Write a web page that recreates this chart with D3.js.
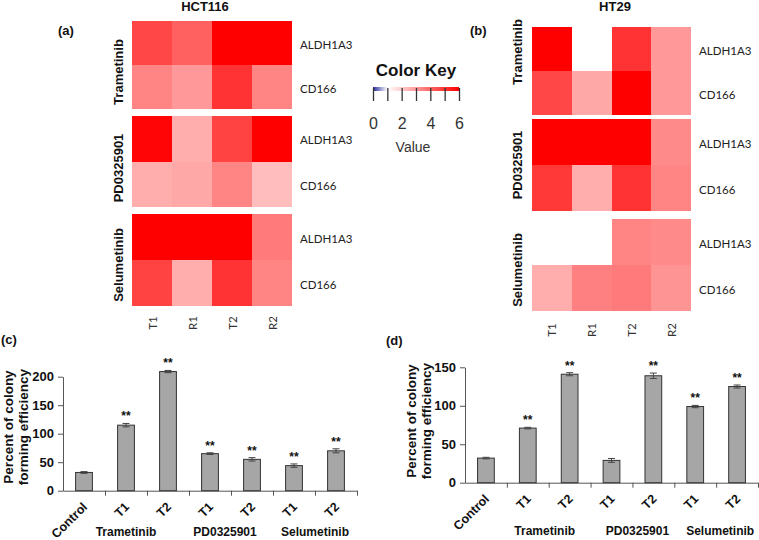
<!DOCTYPE html>
<html><head><meta charset="utf-8">
<script src="https://cdn.jsdelivr.net/npm/d3@7"></script>
<style>body{margin:0;background:#fff}svg{display:block}</style>
</head><body><svg id="chart" width="759" height="540"></svg>
<script>
// ---------- DATA ----------
const heatCols = ["T1","R1","T2","R2"];
const heatGenes = ["ALDH1A3","CD166"];
const heatDrugs = ["Trametinib","PD0325901","Selumetinib"];
// rows: ALDH1A3, CD166 ; cols: T1,R1,T2,R2 ; null = blank cell
const hctTrametinib  = [[4.6,4.1,6.0,6.0],[3.4,3.0,5.0,3.4]];
const hctPD0325901   = [[5.9,2.6,4.7,6.0],[2.6,2.7,3.4,2.3]];
const hctSelumetinib = [[6.0,6.0,6.0,3.6],[4.7,2.6,5.0,3.4]];
const ht29Trametinib  = [[6.0,null,5.0,3.0],[4.6,2.7,6.0,3.0]];
const ht29PD0325901   = [[6.0,6.0,6.0,3.3],[4.9,2.6,5.0,3.4]];
const ht29Selumetinib = [[null,null,3.4,3.3],[2.6,3.5,3.6,3.1]];
const keyTicks = [0,1,2,3,4,5,6];
const keyLabels = [0,2,4,6];

const barKeys = ["Control","Trametinib T1","Trametinib T2","PD0325901 T1","PD0325901 T2","Selumetinib T1","Selumetinib T2"];
const barTickLabels = ["Control","T1","T2","T1","T2","T1","T2"];
const barGroups = ["Trametinib","PD0325901","Selumetinib"];
const hctColony    = [32,115,209,65,55,44,70];
const hctColonyErr = [1.5,3,2,1.5,3,3,3.5];
const hctColonySig = [false,true,true,true,true,true,true];
const ht29Colony    = [32,71,141,29,139,99,125];
const ht29ColonyErr = [1,1,2,2.5,3.5,1.5,2];
const ht29ColonySig = [false,true,true,false,true,true,true];
const hctYTicks = [0,50,100,150,200];
const ht29YTicks = [0,50,100,150];

// ---------- DRAW ----------
const svg = d3.select("#chart");
const BOLD = "'Liberation Sans', Arial, sans-serif";
const LIGHT = "Lato, 'Open Sans', sans-serif";
const color = d3.scaleLinear().domain([0,1,6]).range(["#2a2a9c","#ffffff","#ff0000"]).clamp(true);

function heatmap(cfg){
  const g = svg.append("g");
  const x = d3.scaleBand().domain(heatCols).range([cfg.x0, cfg.x1]);
  cfg.blocks.forEach((b,i)=>{
    const y = d3.scaleBand().domain(heatGenes).range([b.top, b.top + b.h]);
    const rows = cfg.data[i];
    heatGenes.forEach((gene,r)=>{
      g.selectAll(null).data(rows[r]).enter().append("rect")
        .attr("x",(d,c)=>x(heatCols[c])).attr("y",y(gene))
        .attr("width",x.bandwidth()).attr("height",y.bandwidth())
        .attr("fill",d=> d==null ? "#ffffff" : color(d))
        .attr("shape-rendering","crispEdges");
      g.append("text").attr("x",cfg.x1 + 8).attr("y",y(gene)+y.bandwidth()/2 + 1)
        .attr("dominant-baseline","central").attr("font-family",LIGHT)
        .attr("font-size",11.5).attr("fill","#222").text(gene);
    });
    g.append("text")
      .attr("transform",`translate(${cfg.drugX},${b.labelY}) rotate(-90)`)
      .attr("text-anchor","middle").attr("dominant-baseline","central")
      .attr("font-family",BOLD).attr("font-weight","bold").attr("font-size",13)
      .attr("fill","#111").text(heatDrugs[i]);
  });
  g.selectAll(null).data(heatCols).enter().append("text")
    .attr("transform",d=>`translate(${x(d)+x.bandwidth()/2},${cfg.colY}) rotate(-90)`)
    .attr("text-anchor","middle").attr("dominant-baseline","central")
    .attr("font-family",LIGHT).attr("font-size",11.5).attr("fill","#333").text(d=>d);
  g.append("text").attr("x",cfg.titleX).attr("y",11).attr("text-anchor","middle")
    .attr("font-family",BOLD).attr("font-weight","bold").attr("font-size",13).attr("fill","#111").text(cfg.title);
  g.append("text").attr("x",cfg.tagX).attr("y",35)
    .attr("font-family",BOLD).attr("font-weight","bold").attr("font-size",13).attr("fill","#111").text(cfg.tag);
}

heatmap({x0:132,x1:292,drugX:118,colY:323,titleX:205,tagX:58,title:"HCT116",tag:"(a)",
  blocks:[{top:21,h:88,labelY:72},{top:116,h:91,labelY:168},{top:214,h:92,labelY:265}],
  data:[hctTrametinib,hctPD0325901,hctSelumetinib]});
heatmap({x0:532,x1:691,drugX:517,colY:330,titleX:615,tagX:470,title:"HT29",tag:"(b)",
  blocks:[{top:27,h:88,labelY:52},{top:119,h:92,labelY:165},{top:219,h:92,labelY:270}],
  data:[ht29Trametinib,ht29PD0325901,ht29Selumetinib]});

// Color key
(function(){
  const kx = d3.scaleLinear().domain([0,6]).range([373,459]);
  const defs = svg.append("defs");
  const grad = defs.append("linearGradient").attr("id","kg");
  d3.range(0,6.001,0.25).forEach(v=>grad.append("stop").attr("offset",(v/6*100)+"%").attr("stop-color",color(v)));
  svg.append("text").attr("x",416).attr("y",76).attr("text-anchor","middle")
    .attr("font-family",BOLD).attr("font-weight","bold").attr("font-size",17).attr("fill","#111").text("Color Key");
  svg.append("rect").attr("x",kx(0)).attr("y",87).attr("width",kx(6)-kx(0)).attr("height",4).attr("fill","url(#kg)");
  const ax = svg.append("g").attr("transform","translate(0,88)")
    .call(d3.axisBottom(kx).tickValues(keyTicks).tickSize(13).tickPadding(17)
      .tickFormat(d=> keyLabels.includes(d) ? d : ""));
  ax.select(".domain").remove();
  ax.selectAll("line").attr("stroke","#333").attr("stroke-width",1.3);
  ax.selectAll("text").attr("font-family","'Liberation Sans Narrow', 'Liberation Sans', sans-serif")
    .attr("font-size",16).attr("fill","#333");
  svg.append("text").attr("x",413).attr("y",152).attr("text-anchor","middle")
    .attr("font-family","'Liberation Sans', sans-serif").attr("font-size",14).attr("fill","#333").text("Value");
})();

function bars(cfg){
  const g = svg.append("g");
  const x = d3.scaleBand().domain(barKeys).range([cfg.x0,cfg.x1]).paddingInner(0.6).paddingOuter(0.3);
  const y = d3.scaleLinear().domain([0,cfg.yMax]).range([cfg.y0,cfg.yTop]);
  const axCol = "#555";
  const ya = g.append("g").attr("transform",`translate(${cfg.x0},0)`)
    .call(d3.axisLeft(y).tickValues(cfg.ticks).tickSize(5).tickSizeOuter(0).tickPadding(4));
  ya.select(".domain").attr("stroke",axCol);
  ya.selectAll("line").attr("stroke",axCol);
  ya.selectAll("text").attr("font-family",BOLD).attr("font-weight","bold").attr("font-size",13).attr("fill","#111");
  const xb = d3.scaleLinear().domain([0,barKeys.length]).range([cfg.x0,cfg.x1]);
  const xa = g.append("g").attr("transform",`translate(0,${cfg.y0})`)
    .call(d3.axisBottom(xb).tickValues(d3.range(1,barKeys.length+1)).tickSize(5).tickSizeOuter(0).tickFormat(""));
  xa.select(".domain").attr("stroke",axCol);
  xa.selectAll("line").attr("stroke",axCol);
  g.selectAll(null).data(cfg.values).enter().append("rect")
    .attr("x",(d,i)=>x(barKeys[i])).attr("y",d=>y(d))
    .attr("width",x.bandwidth()).attr("height",d=>cfg.y0-y(d))
    .attr("fill","#a6a6a6").attr("stroke","#333").attr("stroke-width",1);
  cfg.values.forEach((v,i)=>{
    const cx = x(barKeys[i]) + x.bandwidth()/2, e = cfg.err[i];
    g.append("line").attr("x1",cx).attr("x2",cx).attr("y1",y(v-e)).attr("y2",y(v+e)).attr("stroke","#444");
    [v-e,v+e].forEach(t=>g.append("line").attr("x1",cx-3.5).attr("x2",cx+3.5).attr("y1",y(t)).attr("y2",y(t)).attr("stroke","#444"));
    if(cfg.sig[i]) g.append("text").attr("x",cx).attr("y",y(v+e)-3).attr("text-anchor","middle")
      .attr("font-family",BOLD).attr("font-weight","bold").attr("font-size",12).attr("fill","#111").text("**");
    g.append("text").attr("transform",`translate(${cx+4},${cfg.y0+17}) rotate(-45)`)
      .attr("text-anchor","end").attr("font-family",BOLD).attr("font-weight","bold").attr("font-size",12.5)
      .attr("fill","#111").text(barTickLabels[i]);
  });
  barGroups.forEach((grp,k)=>{
    const a = x(barKeys[1+2*k]) + x.bandwidth()/2, b = x(barKeys[2+2*k]) + x.bandwidth()/2;
    g.append("text").attr("x",(a+b)/2 + cfg.groupDx[k]).attr("y",cfg.groupY).attr("text-anchor","middle")
      .attr("font-family",BOLD).attr("font-weight","bold").attr("font-size",12).attr("fill","#111").text(grp);
  });
  ["Percent of colony","forming efficiency"].forEach((t,k)=>{
    g.append("text").attr("transform",`translate(${cfg.titleX[k]},${cfg.titleCy}) rotate(-90)`)
      .attr("text-anchor","middle").attr("font-family",BOLD).attr("font-weight","bold").attr("font-size",13.5)
      .attr("fill","#111").text(t);
  });
  g.append("text").attr("x",cfg.tagX).attr("y",cfg.tagY)
    .attr("font-family",BOLD).attr("font-weight","bold").attr("font-size",13).attr("fill","#111").text(cfg.tag);
}

bars({x0:63,x1:357,y0:490.7,yTop:376.7,yMax:200,ticks:hctYTicks,values:hctColony,err:hctColonyErr,sig:hctColonySig,
  titleX:[13,28],titleCy:427,groupDx:[-21,-6,0],groupY:536,tag:"(c)",tagX:1,tagY:344});
bars({x0:465,x1:758,y0:482.7,yTop:367.3,yMax:150,ticks:ht29YTicks,values:ht29Colony,err:ht29ColonyErr,sig:ht29ColonySig,
  titleX:[416,431],titleCy:421,groupDx:[-4,5,4],groupY:535,tag:"(d)",tagX:386,tagY:345});
</script></body></html>
